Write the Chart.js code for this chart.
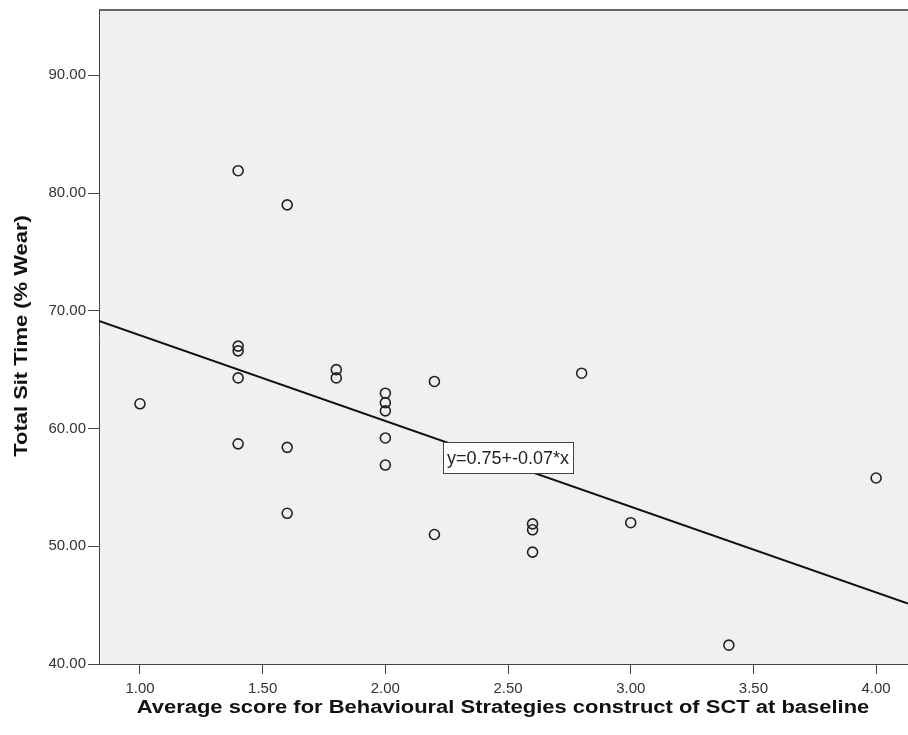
<!DOCTYPE html>
<html>
<head>
<meta charset="utf-8">
<script src="https://cdn.jsdelivr.net/npm/chart.js@4.4.1/dist/chart.umd.min.js"></script>
<style>
  html, body { margin: 0; padding: 0; background: #fff; }
  canvas { display: block; }
</style>
</head>
<body>
<canvas id="scatterChart" width="908" height="735"></canvas>
<script>
// data
const scoreX = [1.0, 1.4, 1.4, 1.4, 1.4, 1.4, 1.6, 1.6, 1.6, 1.8, 1.8,
                2.0, 2.0, 2.0, 2.0, 2.0, 2.2, 2.2, 2.6, 2.6, 2.6, 2.8, 3.0, 3.4, 4.0];
const sitTimeY = [62.1, 81.9, 67.0, 66.6, 64.3, 58.7, 79.0, 58.4, 52.8, 65.0, 64.3,
                  63.0, 62.2, 61.5, 59.2, 56.9, 64.0, 51.0, 51.9, 51.4, 49.5, 64.7, 52.0, 41.6, 55.8];
const xTickValues = [1.0, 1.5, 2.0, 2.5, 3.0, 3.5, 4.0];
const yTickValues = [40, 50, 60, 70, 80, 90];
const fitIntercept = 75.2;   // fit line, in % wear
const fitSlope = -7.28;
const fitLabel = 'y=0.75+-0.07*x';

const xMin = 0.833, xMax = 4.13;
const yMin = 40, yMax = 95.55;

const FONT = "'Liberation Sans', Arial, sans-serif";
const STRETCH = 1.22; // the original titles are drawn wider than Arial

const points = scoreX.map((x, i) => ({ x: x, y: sitTimeY[i] }));
const fitLine = [xMin, xMax].map(x => ({ x: x, y: fitIntercept + fitSlope * x }));

// grey plot background + top frame line
const plotBackground = {
    id: 'plotBackground',
    beforeDraw(chart) {
        const { ctx, chartArea: a } = chart;
        ctx.save();
        ctx.fillStyle = '#f0f0f0';
        ctx.fillRect(a.left, a.top, a.right - a.left, a.bottom - a.top);
        ctx.strokeStyle = '#666';
        ctx.lineWidth = 2;
        ctx.beginPath();
        ctx.moveTo(a.left, a.top);
        ctx.lineTo(a.right, a.top);
        ctx.stroke();
        ctx.restore();
    }
};

// equation box on the fit line + axis titles
const annotations = {
    id: 'annotations',
    afterDatasetsDraw(chart) {
        const { ctx, scales } = chart;
        const cx = scales.x.getPixelForValue(2.5);
        const cy = scales.y.getPixelForValue(57.5);
        ctx.save();
        ctx.font = '18px ' + FONT;
        const w = Math.round(ctx.measureText(fitLabel).width + 8);
        const h = 31;
        const bx = Math.round(cx - w / 2), by = Math.round(cy - h / 2);
        ctx.fillStyle = '#fff';
        ctx.fillRect(bx, by, w, h);
        ctx.strokeStyle = '#444';
        ctx.lineWidth = 1;
        ctx.strokeRect(bx + 0.5, by + 0.5, w, h);
        ctx.fillStyle = '#222';
        ctx.textAlign = 'center';
        ctx.textBaseline = 'middle';
        ctx.fillText(fitLabel, cx, cy + 1);

        ctx.font = 'bold 18px ' + FONT;
        ctx.fillStyle = '#111';
        ctx.save();
        ctx.translate(503, 708);
        ctx.scale(STRETCH, 1);
        ctx.fillText('Average score for Behavioural Strategies construct of SCT at baseline', 0, 0);
        ctx.restore();
        ctx.translate(22, 336);
        ctx.rotate(-Math.PI / 2);
        ctx.scale(STRETCH, 1);
        ctx.fillText('Total Sit Time (% Wear)', 0, 0);
        ctx.restore();
    }
};

new Chart(document.getElementById('scatterChart'), {
    type: 'scatter',
    data: {
        datasets: [{
            label: 'Total Sit Time',
            data: points,
            pointRadius: 5,
            pointHoverRadius: 5,
            pointBorderWidth: 1.6,
            pointBorderColor: '#222',
            pointBackgroundColor: 'rgba(0,0,0,0)'
        }, {
            type: 'line',
            label: 'Fit',
            data: fitLine,
            borderColor: '#111',
            borderWidth: 2,
            pointRadius: 0,
            fill: false
        }]
    },
    options: {
        responsive: false,
        animation: false,
        devicePixelRatio: 1,
        layout: { autoPadding: false, padding: { top: 10, right: 0, left: 0, bottom: 0 } },
        plugins: {
            legend: { display: false },
            tooltip: { enabled: false }
        },
        scales: {
            x: {
                type: 'linear',
                min: xMin,
                max: xMax,
                afterBuildTicks: s => { s.ticks = xTickValues.map(v => ({ value: v })); },
                afterFit: s => { s.height = 71; s.paddingLeft = 0; s.paddingRight = 0; },
                ticks: {
                    autoSkip: false,
                    maxRotation: 0,
                    padding: 6,
                    color: '#333',
                    font: { family: FONT, size: 15 },
                    callback: v => Number(v).toFixed(2)
                },
                grid: { drawOnChartArea: false, drawTicks: true, tickLength: 10, color: '#444' },
                border: { display: true, color: '#444', width: 1 }
            },
            y: {
                min: yMin,
                max: yMax,
                afterBuildTicks: s => { s.ticks = yTickValues.map(v => ({ value: v })); },
                afterFit: s => { s.width = 99; s.paddingTop = 0; s.paddingBottom = 0; },
                ticks: {
                    autoSkip: false,
                    padding: 2,
                    color: '#333',
                    font: { family: FONT, size: 15 },
                    callback: v => Number(v).toFixed(2)
                },
                grid: { drawOnChartArea: false, drawTicks: true, tickLength: 11, color: '#444' },
                border: { display: true, color: '#444', width: 1 }
            }
        }
    },
    plugins: [plotBackground, annotations]
});
</script>
</body>
</html>
